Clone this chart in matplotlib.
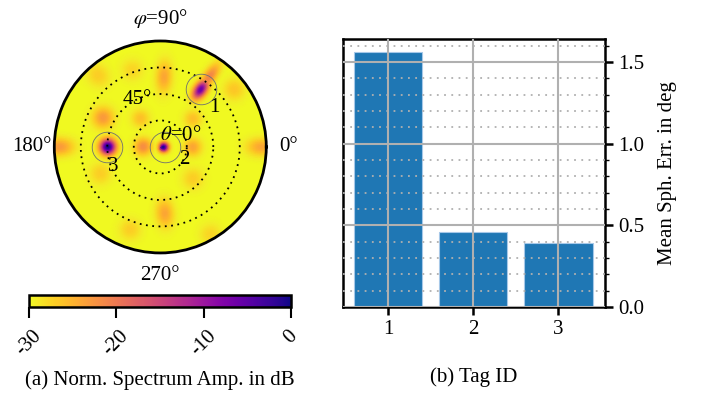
"""Spectrum map of the three tags plus their mean spherical error."""

import numpy as np
import matplotlib

matplotlib.use("Agg")
import matplotlib.pyplot as plt
from matplotlib.ticker import MultipleLocator

plt.rcParams["font.family"] = ["Liberation Serif", "DejaVu Serif"]
plt.rcParams["mathtext.fontset"] = "stix"
plt.rcParams["font.size"] = 15
plt.rcParams["axes.unicode_minus"] = False

# --- (b) bar chart data
tag_ids = [1, 2, 3]
mean_err = [1.56, 0.46, 0.39]

# --- (a) tag positions: azimuth phi and polar angle theta, degrees
tag_phi = [55, 0, 180]
tag_theta = [60, 4, 45]

# spectrum peaks: phi, theta, peak level (dB), radial / tangential width
peak_phi = [55, 55, 0, 180, 180, 0, 180, 0, 153, 87, 274, 125, 41, 204, 316, 131, 110, 250, 300, 38]
peak_theta = [60, 73, 3, 45, 15, 28, 86, 86, 55, 60, 57, 30, 37, 56, 39, 81, 70, 75, 86, 80]
peak_db = [-6, -21, -1, 0, -22, -24, -23, -24, -23, -24, -24, -26, -26, -27, -27, -27, -27.5, -27, -27.5, -26.5]
peak_sr = [6, 9, 3, 4.5, 5, 5, 8, 8, 6, 9, 8, 5, 5, 6, 6, 7, 6, 6, 6, 6]
peak_st = [3.5, 3.5, 3, 4.5, 5, 5, 5, 5, 6, 4.5, 5, 5, 5, 6, 6, 6, 6, 6, 6, 6]

DB_MIN = -30

fig = plt.figure(figsize=(7.03, 3.94), dpi=100)

# ---------------- polar spectrum map
ax = fig.add_axes([0.077, 0.358, 0.302, 0.538], projection="polar")
phi_g = np.radians(np.linspace(0, 360, 361))
th_g = np.linspace(0, 90, 181)
PH, TH = np.meshgrid(phi_g, th_g)
X, Y = TH * np.cos(PH), TH * np.sin(PH)
field = np.zeros_like(X)
for p, t, lvl, sr, st in zip(peak_phi, peak_theta, peak_db, peak_sr, peak_st):
    pr = np.radians(p)
    dx, dy = X - t * np.cos(pr), Y - t * np.sin(pr)
    dr = dx * np.cos(pr) + dy * np.sin(pr)
    dt = -dx * np.sin(pr) + dy * np.cos(pr)
    g = (lvl - DB_MIN) * np.exp(-(dr**2 / (2 * sr**2) + dt**2 / (2 * st**2)))
    field = np.maximum(field, g)
field = DB_MIN + field

mesh = ax.pcolormesh(PH, TH, field, cmap="plasma_r", vmin=DB_MIN, vmax=0,
                     shading="gouraud", rasterized=True)
ax.set_ylim(0, 90)
ax.set_rgrids([22.5, 45, 67.5], labels=["", "", ""])
ax.yaxis.grid(True, color="black", linestyle=(0, (1, 2.5)), linewidth=1.3)
ax.xaxis.grid(False)
ax.set_xticks(np.radians([0, 90, 180, 270]))
ax.set_xticklabels(["0°", r"$\varphi$=90°", "180°", "270°"])
ax.tick_params(axis="x", direction="in", length=5, width=1.5, pad=9)
ax.spines["polar"].set_linewidth(2.0)

ax.plot(np.radians(tag_phi), tag_theta, "o", ms=22, mfc="none",
        mec="#707070", mew=0.6)
label_offsets = [(10, -13), (14, -9), (4, -14)]
for i, (p, t) in enumerate(zip(tag_phi, tag_theta)):
    ax.annotate(str(tag_ids[i]), (np.radians(p), t), textcoords="offset points",
                xytext=label_offsets[i], ha="center", va="center")
ax.text(np.radians(29), 19.5, r"$\theta$=0°", ha="center", va="center")
ax.text(np.radians(116), 45, "45°", ha="center", va="center")

cax = fig.add_axes([0.041, 0.221, 0.373, 0.030])
cb = fig.colorbar(mesh, cax=cax, orientation="horizontal")
cb.set_ticks([-30, -20, -10, 0])
cb.ax.set_xticklabels(["-30", "-20", "-10", "0"], rotation=45)
cb.ax.tick_params(length=8, width=1.5, direction="out", pad=6)
cb.outline.set_linewidth(1.8)
cb.set_label("(a) Norm. Spectrum Amp. in dB", labelpad=8)

# ---------------- bar chart
bx = fig.add_axes([0.488, 0.221, 0.373, 0.680])
bx.bar(tag_ids, mean_err, width=0.8, color="#1f77b4", edgecolor="#a6c8e8",
       linewidth=0.8)
bx.set_xlim(0.47, 3.55)
bx.set_ylim(0, 1.64)
bx.set_xticks(tag_ids)
bx.yaxis.set_major_locator(MultipleLocator(0.5))
bx.yaxis.set_minor_locator(MultipleLocator(0.1))
bx.yaxis.tick_right()
bx.yaxis.set_label_position("right")
bx.set_axisbelow(False)
bx.grid(True, which="major", color="#b0b0b0", linewidth=1.5)
bx.grid(True, which="minor", axis="y", color="#b0b0b0", linestyle=(0, (1, 3)),
        linewidth=1.3)
bx.tick_params(which="major", length=6, width=1.8)
bx.tick_params(which="minor", length=3, width=1.0)
for s in bx.spines.values():
    s.set_linewidth(1.8)
bx.set_ylabel("Mean Sph. Err. in deg", labelpad=10)
bx.set_xlabel("(b) Tag ID", labelpad=20)

fig.savefig("out.png", dpi=100)
